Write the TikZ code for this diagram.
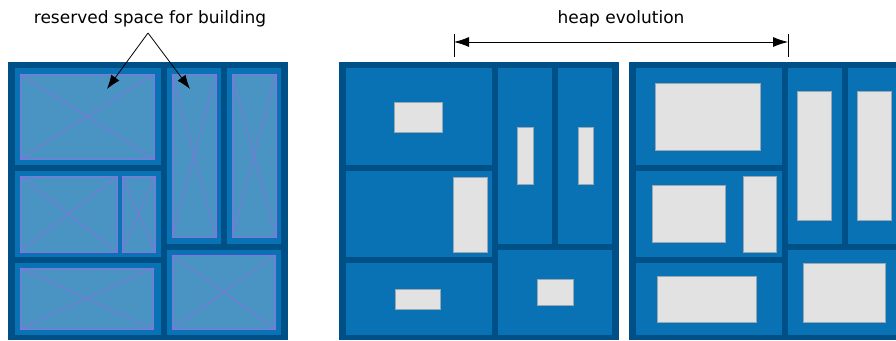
\documentclass[tikz,border=0pt]{standalone}
\usepackage{fontspec}
\setmainfont{DejaVu Sans}
\usetikzlibrary{arrows.meta}

\definecolor{heapdark}{HTML}{005088}
\definecolor{heapcell}{HTML}{0872B4}
\definecolor{resfill}{HTML}{4A94C4}
\definecolor{resline}{HTML}{8A70E0}
\definecolor{objfill}{HTML}{E2E2E2}
\definecolor{objline}{HTML}{9AA6B2}

\tikzset{
	heapframe/.style={fill=heapdark},
	heapcell/.style={fill=heapcell},
	reserved/.style={fill=resfill, draw=resline, line width=1pt},
	cross/.style={draw=resline, line width=0.7pt},
	object/.style={fill=objfill, draw=objline, line width=0.4pt},
	label/.style={font=\fontsize{17}{20}\selectfont, inner sep=0pt},
	pointer/.style={-{Latex[length=14pt,width=10pt]}, line width=0.8pt}
}

\begin{document}
\begin{tikzpicture}[x=1pt,y=-1pt]
	\useasboundingbox (0,0) rectangle (896,340);
	\clip (0,0) rectangle (896,340);

	% three heaps with the same cell layout
	\foreach \ox in {8,339,629}{
		\fill[heapframe] (\ox,62) rectangle ++(280,278);
		\fill[heapcell] (\ox+7,68) rectangle (\ox+153,165);
		\fill[heapcell] (\ox+7,171) rectangle (\ox+153,257);
		\fill[heapcell] (\ox+7,263) rectangle (\ox+153,335);
		\fill[heapcell] (\ox+159,68) rectangle (\ox+213,244);
		\fill[heapcell] (\ox+219,68) rectangle (\ox+273,244);
		\fill[heapcell] (\ox+159,250) rectangle (\ox+273,335);
	}

	% reserved spaces
	\foreach \xa/\ya/\xb/\yb in {20/74/154/159, 172/74/216/237, 232/74/276/237,
			20/176/117/252, 122/176/155/252, 20/268/153/329, 172/255/275/329}{
		\draw[reserved] (\xa,\ya) rectangle (\xb,\yb);
		\draw[cross] (\xa,\ya) -- (\xb,\yb) (\xa,\yb) -- (\xb,\ya);
	}

	% first heap state
	\foreach \xa/\ya/\xb/\yb in {394/102/442/132, 453/177/487/252, 395/289/440/309,
			517/127/533/184, 578/127/593/184, 537/279/573/305}{
		\draw[object] (\xa,\ya) rectangle (\xb,\yb);
	}

	% later heap state
	\foreach \xa/\ya/\xb/\yb in {655/83/760/150, 652/185/725/242, 743/176/776/252,
			657/276/756/322, 797/91/831/220, 857/91/891/220, 803/263/885/322}{
		\draw[object] (\xa,\ya) rectangle (\xb,\yb);
	}

	% labels
	\node[label] (reserved) at (150,19) {reserved space for building};
	\coordinate (apex) at (148,33);
	\coordinate (tipA) at (107,89);
	\coordinate (tipB) at (190,89);
	\draw[pointer] (apex) -- (tipA);
	\draw[pointer] (apex) -- (tipB);

	\node[label] (evolution) at (621,19) {heap evolution};
	\coordinate (evoL) at (454,42);
	\coordinate (evoR) at (788,42);
	\draw[line width=0.8pt] (454,34) -- (454,57) (788,34) -- (788,57);
	\draw[{Latex[length=15pt,width=10pt]}-{Latex[length=15pt,width=10pt]}, line width=0.8pt] (evoL) -- (evoR);
\end{tikzpicture}
\end{document}
